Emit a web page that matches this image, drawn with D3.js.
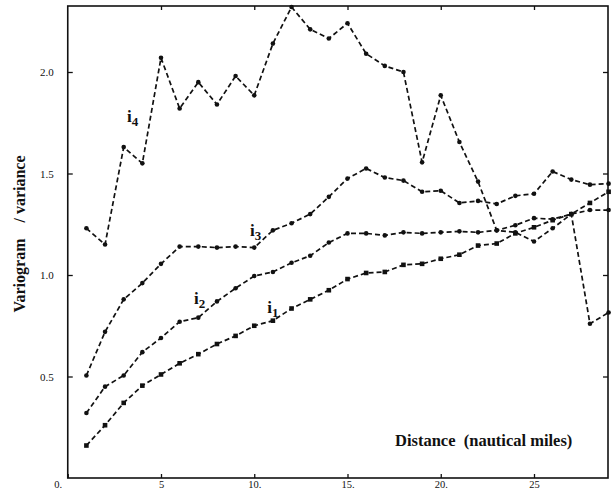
<!DOCTYPE html>
<html>
<head>
<meta charset="utf-8">
<script src="https://cdn.jsdelivr.net/npm/d3@7"></script>
<style>
  html, body { margin: 0; padding: 0; background: #fff; }
  svg { display: block; font-family: "Liberation Serif", "DejaVu Serif", serif; }
</style>
</head>
<body>
<div id="chart"></div>
<script>
const distances = d3.range(1, 30);

const i1 = [0.16, 0.26, 0.37, 0.455, 0.51, 0.565, 0.61, 0.66, 0.70, 0.75,
  0.775, 0.835, 0.88, 0.925, 0.98, 1.01, 1.015, 1.05, 1.055, 1.08,
  1.10, 1.145, 1.155, 1.205, 1.235, 1.27, 1.30, 1.355, 1.41];
const i2 = [0.32, 0.45, 0.505, 0.62, 0.69, 0.77, 0.79, 0.87, 0.935, 0.995,
  1.015, 1.06, 1.095, 1.16, 1.205, 1.205, 1.195, 1.21, 1.205, 1.21,
  1.215, 1.21, 1.22, 1.245, 1.28, 1.275, 1.30, 1.32, 1.32];
const i3 = [0.505, 0.72, 0.88, 0.96, 1.055, 1.14, 1.14, 1.135, 1.14, 1.135,
  1.22, 1.255, 1.30, 1.385, 1.475, 1.525, 1.48, 1.465, 1.41, 1.415,
  1.355, 1.365, 1.35, 1.39, 1.40, 1.51, 1.47, 1.445, 1.45];
const i4 = [1.23, 1.15, 1.63, 1.55, 2.07, 1.82, 1.95, 1.84, 1.98, 1.885,
  2.14, 2.32, 2.21, 2.165, 2.24, 2.09, 2.03, 2.0, 1.555, 1.885,
  1.655, 1.46, 1.22, 1.21, 1.165, 1.23, 1.30, 0.76, 0.815];

const xTicks = [0, 5, 10, 15, 20, 25];
const xTickLabels = ["0.", "5", "10.", "15.", "20.", "25"];
const yTicks = [0.5, 1.0, 1.5, 2.0];
const yTickLabels = ["0.5", "1.0", "1.5", "2.0"];

// label anchors in data units
const seriesLabels = [
  { name: "i", sub: "1", d: 10.7, v: 0.814 },
  { name: "i", sub: "2", d: 6.77, v: 0.859 },
  { name: "i", sub: "3", d: 9.77, v: 1.192 },
  { name: "i", sub: "4", d: 3.18, v: 1.754 }
];

const series = [
  { key: "i1", values: i1, marker: "square" },
  { key: "i2", values: i2, marker: "circle" },
  { key: "i3", values: i3, marker: "circle" },
  { key: "i4", values: i4, marker: "circle" }
];

const W = 616, H = 499;
const mg = { top: 6, right: 8, bottom: 21, left: 67.75 };
const iw = W - mg.left - mg.right;
const ih = H - mg.top - mg.bottom;

const svg = d3.select("#chart").append("svg").attr("width", W).attr("height", H);
const g = svg.append("g").attr("transform", `translate(${mg.left},${mg.top})`);

const x = d3.scaleLinear().domain([0, iw / 18.65]).range([0, iw]);
const y = d3.scaleLinear().domain([0, ih / 203]).range([ih, 0]);

// axes, ticks pointing inward
const styleAxis = (sel) => {
  sel.select(".domain").remove();
  sel.selectAll("line").attr("stroke", "#111").attr("stroke-width", 1.3);
  sel.selectAll("text").style("font-family", "Liberation Serif, serif").attr("fill", "#111");
};

g.append("g").attr("transform", `translate(0,${ih})`)
  .call(d3.axisBottom(x).tickValues(xTicks).tickSize(-4).tickPadding(2.5)
    .tickFormat((d, i) => xTickLabels[i]))
  .call(styleAxis)
  .call(s => s.selectAll("text").style("font-size", "10.5px")
    .attr("dx", d => d === 0 ? -10 : 0));

g.append("g")
  .call(d3.axisTop(x).tickValues(xTicks.slice(1)).tickSize(-4).tickFormat(""))
  .call(styleAxis);

g.append("g")
  .call(d3.axisLeft(y).tickValues(yTicks).tickSize(-5).tickPadding(14)
    .tickFormat((d, i) => yTickLabels[i]))
  .call(styleAxis)
  .call(s => s.selectAll("text").style("font-size", "11px"));

g.append("g").attr("transform", `translate(${iw},0)`)
  .call(d3.axisRight(y).tickValues(yTicks).tickSize(-5).tickFormat(""))
  .call(styleAxis);

// frame
g.append("rect").attr("x", 0).attr("y", 0).attr("width", iw).attr("height", ih)
  .attr("fill", "none").attr("stroke", "#111").attr("stroke-width", 1.6);

const line = d3.line().x((v, i) => x(distances[i])).y(v => y(v));

series.forEach(s => {
  g.append("path").datum(s.values)
    .attr("fill", "none").attr("stroke", "#111")
    .attr("stroke-width", 1.7).attr("stroke-dasharray", "5,3")
    .attr("d", line);

  if (s.marker === "square") {
    g.selectAll(null).data(s.values).join("rect")
      .attr("x", (v, i) => x(distances[i]) - 2.3)
      .attr("y", v => y(v) - 2.3)
      .attr("width", 4.6).attr("height", 4.6)
      .attr("fill", "#111");
  } else {
    g.selectAll(null).data(s.values).join("circle")
      .attr("cx", (v, i) => x(distances[i]))
      .attr("cy", v => y(v))
      .attr("r", 2.3)
      .attr("fill", "#111");
  }
});

// series labels
seriesLabels.forEach(l => {
  const t = g.append("text")
    .attr("x", x(l.d)).attr("y", y(l.v))
    .style("font-size", "17px").style("font-weight", "700").attr("fill", "#111");
  t.append("tspan").text(l.name);
  t.append("tspan").text(l.sub).attr("dy", 4).style("font-size", "13px");
});

// axis titles
svg.append("text")
  .attr("transform", "translate(25,234) rotate(-90)")
  .attr("text-anchor", "middle")
  .style("font-size", "16px").style("font-weight", "700")
  .style("white-space", "pre").attr("xml:space", "preserve")
  .attr("fill", "#111")
  .text("Variogram    / variance");

svg.append("text")
  .attr("x", 395).attr("y", 446)
  .style("font-size", "16.5px").style("font-weight", "700")
  .style("white-space", "pre").attr("xml:space", "preserve")
  .attr("fill", "#111")
  .text("Distance  (nautical miles)");
</script>
</body>
</html>
